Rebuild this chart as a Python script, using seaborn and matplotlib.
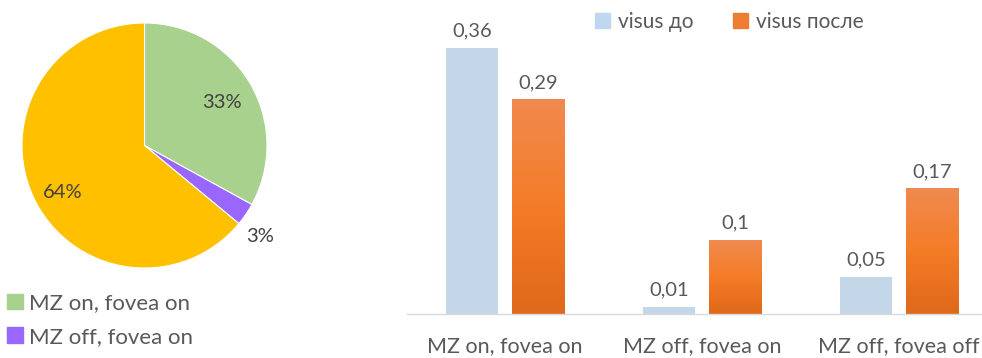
import numpy as np
import pandas as pd
import matplotlib
matplotlib.use("Agg")
import matplotlib.pyplot as plt
import seaborn as sns
from matplotlib.colors import LinearSegmentedColormap
from matplotlib.patches import Patch

# Share of eyes per macular-zone / fovea status (pie)
pie_labels = ["MZ on, fovea on", "MZ off, fovea on", "MZ off, fovea off"]
pie_shares = [33, 3, 64]
pie_colors = ["#A9D18E", "#9966FF", "#FFC000"]

# Visual acuity before / after surgery (bars)
groups = ["MZ on, fovea on", "MZ off, fovea on", "MZ off, fovea off"]
series = ["visus до", "visus после"]
visus_before = [0.36, 0.01, 0.05]
visus_after = [0.29, 0.10, 0.17]
bar_colors = ["#BDD7EE", "#ED7D31"]

TEXT = "#595959"

sns.set_theme(style="white")
plt.rcParams["font.family"] = ["Lato", "DejaVu Sans"]

W, H = 982, 358
fig = plt.figure(figsize=(W / 100, H / 100), dpi=100)


def box(l, t, r, b):
    return [l / W, 1 - b / H, (r - l) / W, (b - t) / H]


# ---- pie -------------------------------------------------------------
axp = fig.add_axes(box(21, 23, 268, 268))
wedges, _ = axp.pie(pie_shares, colors=pie_colors, startangle=90,
                    counterclock=False,
                    wedgeprops=dict(edgecolor="white", linewidth=0.8))
axp.set_xlim(-1, 1)
axp.set_ylim(-1, 1)
axp.set_aspect("equal")
axp.axis("off")
# label radius and small angular nudge (degrees) for each slice label
label_r = [0.72, 1.2, 0.77]
label_turn = [-1.5, -4.0, 4.5]
for w, v, r, t in zip(wedges, pie_shares, label_r, label_turn):
    ang = np.deg2rad((w.theta1 + w.theta2) / 2 + t)
    axp.text(r * np.cos(ang), r * np.sin(ang), f"{v}%", ha="center",
             va="center", fontsize=14.5, color="#404040", clip_on=False)

fig.legend(handles=[Patch(color=c) for c in pie_colors[:2]],
           labels=pie_labels[:2], loc="center left",
           bbox_to_anchor=(7 / W, 1 - 320 / H), frameon=False,
           fontsize=16, handlelength=0.7, handleheight=0.7,
           handletextpad=0.3, labelspacing=0.62, labelcolor=TEXT,
           borderaxespad=0, borderpad=0)

# ---- bars ------------------------------------------------------------
axb = fig.add_axes(box(406.5, 0, 997.5, 314))
df = pd.DataFrame({
    "group": groups * 2,
    "series": [series[0]] * len(groups) + [series[1]] * len(groups),
    "visus": visus_before + visus_after,
})
sns.barplot(data=df, x="group", y="visus", hue="series", order=groups,
            hue_order=series, palette=bar_colors, width=0.67, gap=0.21,
            linewidth=0, legend=False, ax=axb)

# vertical gradient fill on the "после" bars
grad_cmap = LinearSegmentedColormap.from_list(
    "orange_grad", ["#DF681A", "#F47C27", "#F08A50"])
grad = np.linspace(0, 1, 256).reshape(-1, 1)
for p in axb.containers[1]:
    x0, y0, w, h = p.get_x(), p.get_y(), p.get_width(), p.get_height()
    im = axb.imshow(grad, extent=[x0, x0 + w, y0, y0 + h], origin="lower",
                    aspect="auto", cmap=grad_cmap, zorder=p.get_zorder() + 0.1)
    im.set_clip_path(p)

for cont, vals in zip(axb.containers, [visus_before, visus_after]):
    axb.bar_label(cont, labels=[f"{v:g}".replace(".", ",") for v in vals],
                  padding=6, fontsize=14.5, color=TEXT)

axb.set_xlim(-0.5, 2.5)
axb.set_ylim(0, 314 / 739.7)
axb.set_xlabel("")
axb.set_ylabel("")
axb.set_yticks([])
for s in ["top", "left", "right"]:
    axb.spines[s].set_visible(False)
axb.spines["bottom"].set_color("#D9D9D9")
axb.spines["bottom"].set_linewidth(1)
axb.tick_params(axis="x", length=0, pad=16, labelsize=15.5, labelcolor=TEXT)

fig.legend(handles=[Patch(color=c) for c in bar_colors], labels=series,
           loc="center left", bbox_to_anchor=(595 / W, 1 - 22 / H), ncol=2,
           frameon=False, fontsize=15, handlelength=0.7, handleheight=0.7,
           handletextpad=0.4, columnspacing=1.9, labelcolor=TEXT,
           borderaxespad=0, borderpad=0)

fig.savefig("out.png", dpi=100)
